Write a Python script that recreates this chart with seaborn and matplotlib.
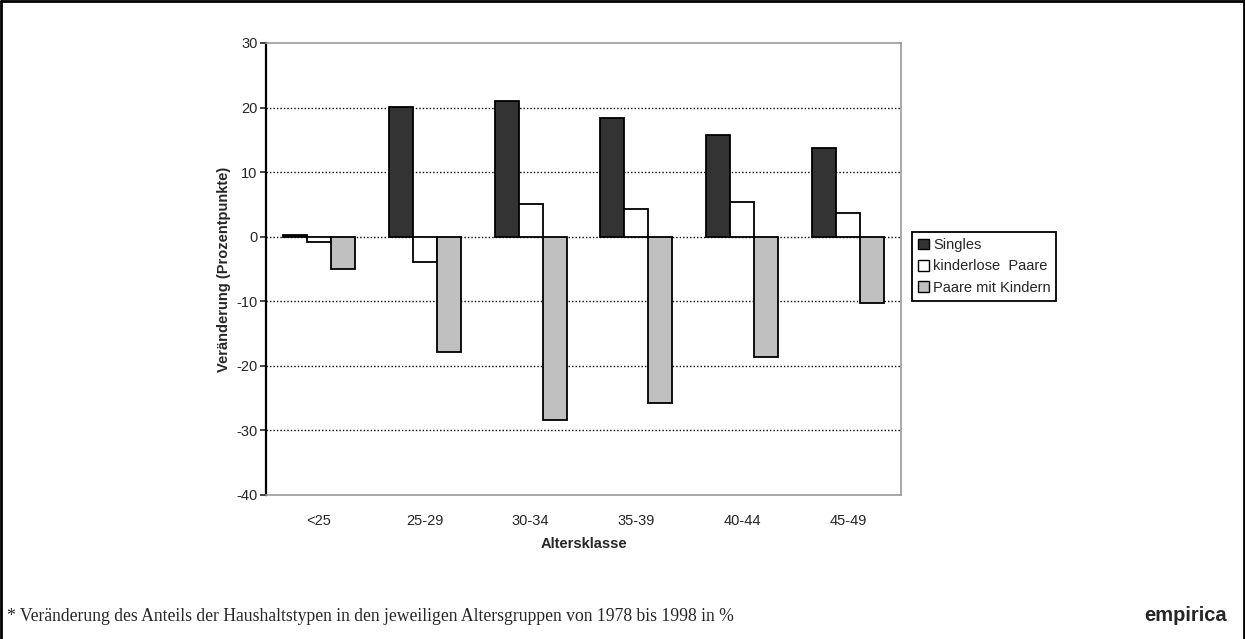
import matplotlib
matplotlib.use("Agg")
import matplotlib.pyplot as plt
import pandas as pd
import seaborn as sns
from matplotlib.lines import Line2D
from matplotlib.patches import Patch

AGE_CLASSES = ["<25", "25-29", "30-34", "35-39", "40-44", "45-49"]
SERIES = ["Singles", "kinderlose  Paare", "Paare mit Kindern"]
SINGLES = [0.2, 20.1, 21.0, 18.3, 15.8, 13.7]
KINDERLOSE = [-0.9, -4.0, 5.0, 4.3, 5.3, 3.7]
MIT_KINDERN = [-5.0, -17.9, -28.4, -25.7, -18.6, -10.2]
COLORS = ["#333333", "#ffffff", "#c0c0c0"]
Y_TICKS = [-40, -30, -20, -10, 0, 10, 20, 30]

FOOTNOTE = "* Veränderung des Anteils der Haushaltstypen in den jeweiligen Altersgruppen von 1978 bis 1998 in %"

sns.set_theme(style="white")
plt.rcParams["font.family"] = ["Liberation Sans", "DejaVu Sans"]

df = pd.DataFrame({
    "Altersklasse": AGE_CLASSES * 3,
    "Typ": [SERIES[0]] * 6 + [SERIES[1]] * 6 + [SERIES[2]] * 6,
    "Wert": SINGLES + KINDERLOSE + MIT_KINDERN,
})

fig = plt.figure(figsize=(12.45, 6.39), dpi=100)
ax = fig.add_axes([0.2137, 0.2254, 0.51, 0.7074])

sns.barplot(
    data=df, x="Altersklasse", y="Wert", hue="Typ",
    order=AGE_CLASSES, hue_order=SERIES, palette=COLORS,
    width=0.68, edgecolor="black", linewidth=1.3, saturation=1,
    legend=False, ax=ax,
)

ax.set_ylim(-40, 30)
ax.set_xlim(-0.5, 5.5)
ax.set_yticks(Y_TICKS)
ax.set_yticklabels([str(v) for v in Y_TICKS], fontsize=10.5)
for y in Y_TICKS[1:-1]:
    ax.axhline(y, color="black", linestyle=(0, (1, 1.5)), linewidth=1.0, zorder=0)

ax.tick_params(axis="x", length=0, pad=14, labelsize=10.5)
ax.tick_params(axis="y", length=4, width=1.2, direction="out", left=True, pad=2)
ax.set_xlabel("Altersklasse", fontsize=10.5, fontweight="bold", labelpad=6)
ax.set_ylabel("Veränderung (Prozentpunkte)", fontsize=10.5, fontweight="bold", labelpad=4)

for side in ["top", "right", "bottom"]:
    ax.spines[side].set_color("#999999")
    ax.spines[side].set_linewidth(1.2)
ax.spines["left"].set_color("black")
ax.spines["left"].set_linewidth(1.6)

handles = [Patch(facecolor=c, edgecolor="black", linewidth=1.0) for c in COLORS]
leg = ax.legend(
    handles, SERIES, loc="upper left", bbox_to_anchor=(1.017, 0.581),
    frameon=True, fancybox=False, framealpha=1, fontsize=10.5,
    handlelength=0.75, handleheight=0.75,
    handletextpad=0.3, borderpad=0.4, labelspacing=0.5, borderaxespad=0,
)
leg.get_frame().set_edgecolor("black")
leg.get_frame().set_linewidth(1.3)

fig.text(0.006, 0.028, FOOTNOTE, fontsize=12.7, family=["Liberation Serif", "DejaVu Serif"])
fig.text(0.919, 0.028, "empirica", fontsize=14.5, fontweight="bold")

# outer frame
for xs, ys in [([0.001, 0.001], [0, 0.999]), ([0.001, 0.999], [0.998, 0.998]), ([0.999, 0.999], [0, 0.999])]:
    fig.add_artist(Line2D(xs, ys, color="black", linewidth=2, transform=fig.transFigure))

fig.savefig("out.png", dpi=100)
